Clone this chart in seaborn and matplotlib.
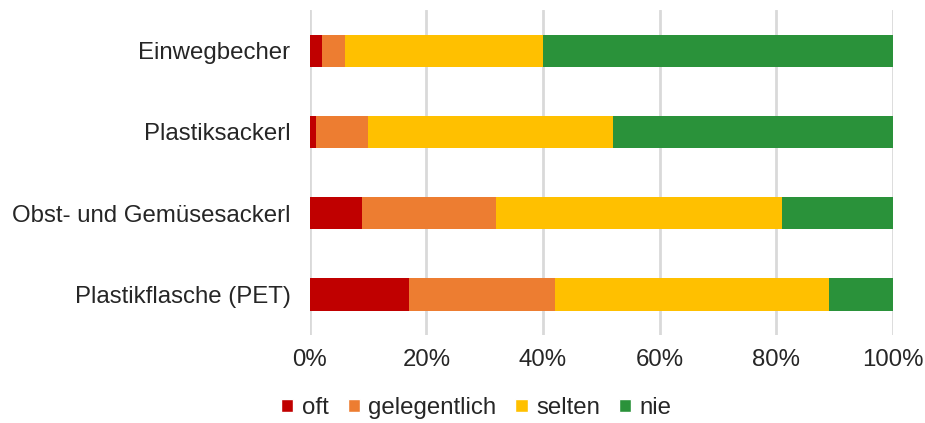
import numpy as np
import pandas as pd
import matplotlib.pyplot as plt
import matplotlib.ticker as mticker
from matplotlib.patches import Patch
import seaborn as sns

# ── Data (percent of answers) ─────────────────────────────────────────────────
items        = ["Einwegbecher", "Plastiksackerl", "Obst- und Gemüsesackerl", "Plastikflasche (PET)"]
oft          = [2, 1, 9, 17]
gelegentlich = [4, 9, 23, 25]
selten       = [34, 42, 49, 47]
nie          = [60, 48, 19, 11]

answers = ["oft", "gelegentlich", "selten", "nie"]
colors  = ["#C00000", "#ED7D31", "#FFC000", "#2A923A"]

df = pd.DataFrame({"item": items, "oft": oft, "gelegentlich": gelegentlich,
                   "selten": selten, "nie": nie})
cum = df[answers].cumsum(axis=1)
cum["item"] = df["item"]

sns.set_theme(style="white")
plt.rcParams["font.family"] = ["Liberation Sans", "DejaVu Sans"]
FS = 17.3

fig = plt.figure(figsize=(9.25, 4.23), dpi=100)
ax = fig.add_axes([0.335, 0.208, 0.630, 0.768])

# draw the cumulative layers from the right so each shorter bar sits on top
for ans, col in reversed(list(zip(answers, colors))):
    sns.barplot(data=cum, x=ans, y="item", color=col, width=0.4,
                saturation=1, ax=ax, zorder=3, linewidth=0)

ax.set_xlim(0, 100)
ax.set_ylim(3.5, -0.5)
ax.xaxis.set_major_locator(mticker.MultipleLocator(20))
ax.xaxis.set_major_formatter(mticker.PercentFormatter(decimals=0))
ax.grid(axis="x", color="#D9D9D9", linewidth=2, zorder=0)
ax.set_axisbelow(True)
for s in ax.spines.values():
    s.set_visible(False)
ax.set_xlabel("")
ax.set_ylabel("")
ax.tick_params(axis="y", length=0, pad=14, labelsize=FS, labelcolor="#262626")
ax.tick_params(axis="x", length=0, pad=10, labelsize=FS, labelcolor="#262626")

handles = [Patch(facecolor=c, label=a) for a, c in zip(answers, colors)]
fig.legend(handles=handles, loc="lower center", bbox_to_anchor=(0.515, -0.042),
           ncol=4, frameon=False, fontsize=FS, handlelength=0.5, handleheight=0.5,
           handletextpad=0.35, columnspacing=0.8, labelcolor="#262626")

fig.savefig("out.png", dpi=100)
